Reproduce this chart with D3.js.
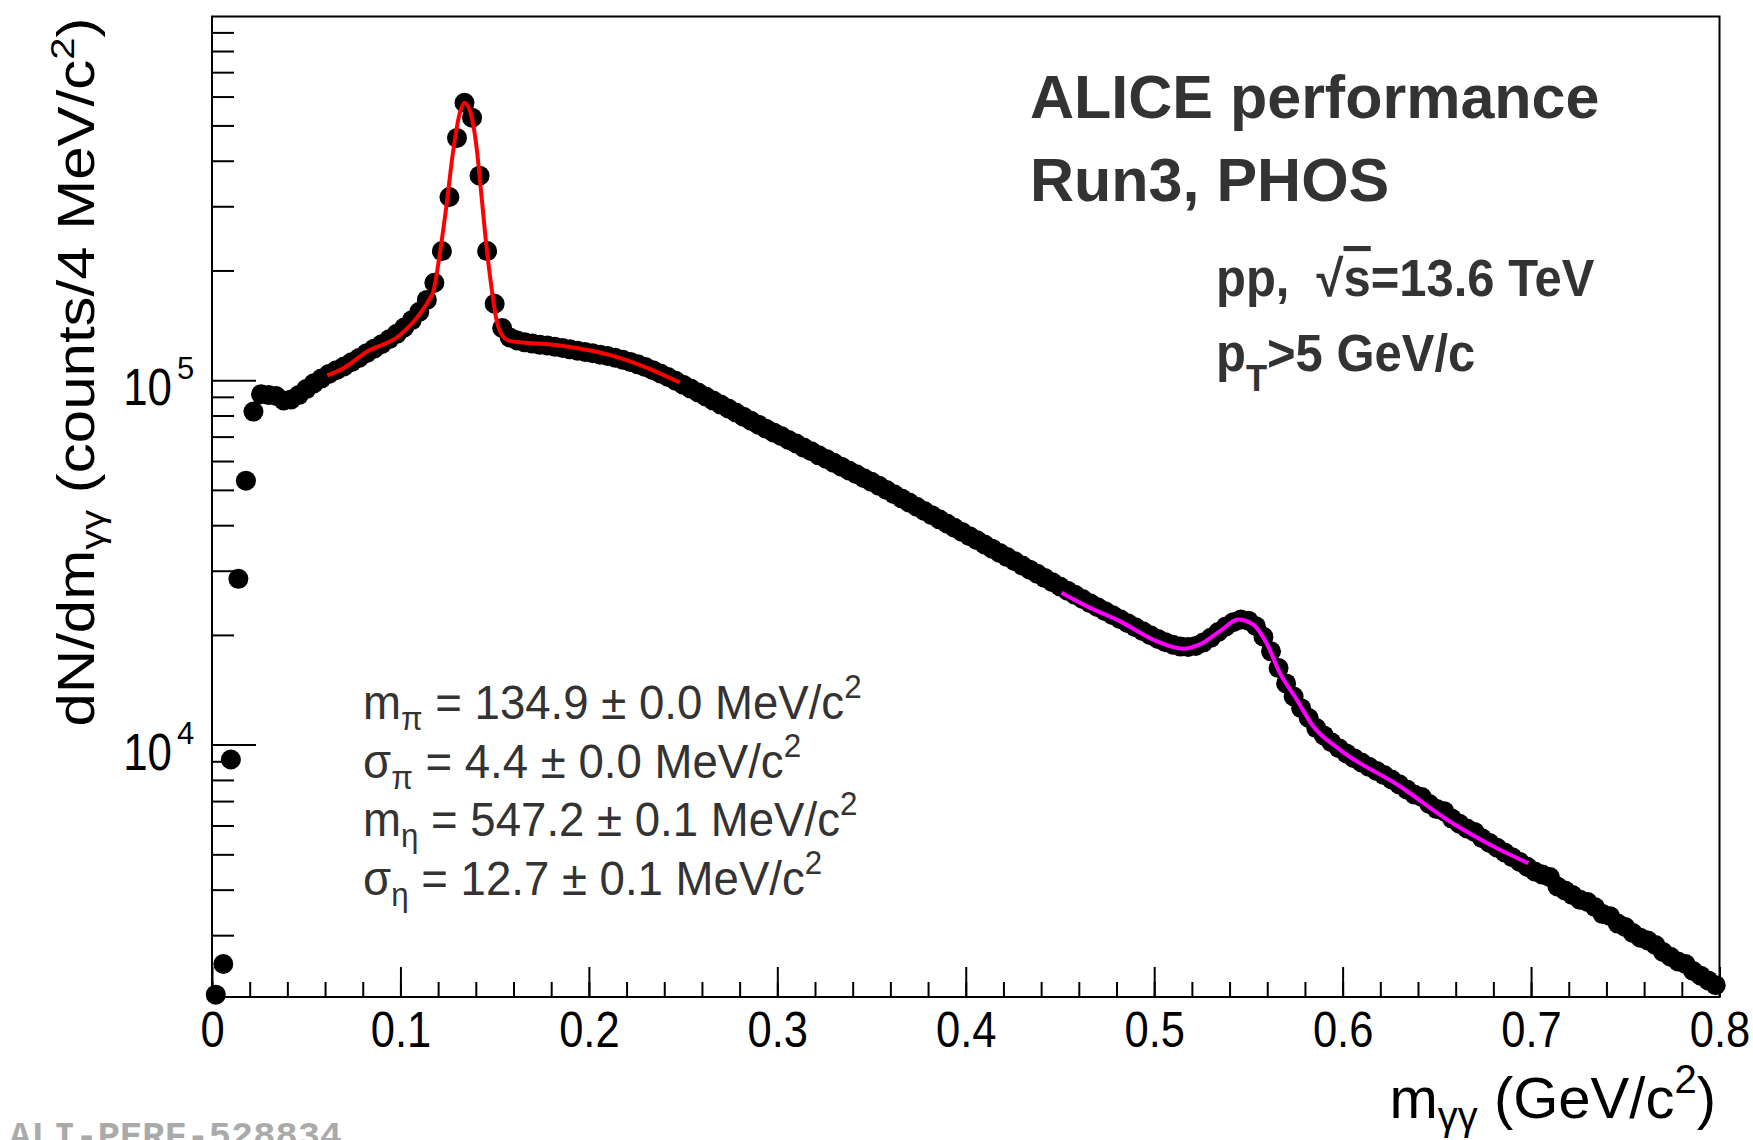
<!DOCTYPE html>
<html>
<head>
<meta charset="utf-8">
<script src="https://cdn.jsdelivr.net/npm/d3@7"></script>
<style>
  body { margin: 0; background: #fff; }
  svg { display: block; font-family: "Liberation Sans", Arial, sans-serif; }
</style>
</head>
<body>
<div id="chart"></div>
<script>
// invariant mass bin centres (GeV/c^2), 4 MeV bins
const massBins = [
  0.002,0.006,0.010,0.014,0.018,0.022,0.026,0.030,0.034,0.038,
  0.042,0.046,0.050,0.054,0.058,0.062,0.066,0.070,0.074,0.078,
  0.082,0.086,0.090,0.094,0.098,0.102,0.106,0.110,0.114,0.118,
  0.122,0.126,0.130,0.134,0.138,0.142,0.146,0.150,0.154,0.158,
  0.162,0.166,0.170,0.174,0.178,0.182,0.186,0.190,0.194,0.198,
  0.202,0.206,0.210,0.214,0.218,0.222,0.226,0.230,0.234,0.238,
  0.242,0.246,0.250,0.254,0.258,0.262,0.266,0.270,0.274,0.278,
  0.282,0.286,0.290,0.294,0.298,0.302,0.306,0.310,0.314,0.318,
  0.322,0.326,0.330,0.334,0.338,0.342,0.346,0.350,0.354,0.358,
  0.362,0.366,0.370,0.374,0.378,0.382,0.386,0.390,0.394,0.398,
  0.402,0.406,0.410,0.414,0.418,0.422,0.426,0.430,0.434,0.438,
  0.442,0.446,0.450,0.454,0.458,0.462,0.466,0.470,0.474,0.478,
  0.482,0.486,0.490,0.494,0.498,0.502,0.506,0.510,0.514,0.518,
  0.522,0.526,0.530,0.534,0.538,0.542,0.546,0.550,0.554,0.558,
  0.562,0.566,0.570,0.574,0.578,0.582,0.586,0.590,0.594,0.598,
  0.602,0.606,0.610,0.614,0.618,0.622,0.626,0.630,0.634,0.638,
  0.642,0.646,0.650,0.654,0.658,0.662,0.666,0.670,0.674,0.678,
  0.682,0.686,0.690,0.694,0.698,0.702,0.706,0.710,0.714,0.718,
  0.722,0.726,0.730,0.734,0.738,0.742,0.746,0.750,0.754,0.758,
  0.762,0.766,0.770,0.774,0.778,0.782,0.786,0.790,0.794,0.798
]

// counts per 4 MeV/c^2
const counts = [
  2060,2500,9100,28500,53000,82000,91500,91000,90500,88000,
  88500,91000,94500,98000,101000,104000,106500,109000,112000,115000,
  118500,122000,125500,129500,134000,139500,146000,154000,166000,185000,
  226000,318000,462000,577000,525000,364000,226000,162000,139000,131000,
  128500,127000,126000,125000,124500,123500,122500,121500,120500,119500,
  118500,117500,116500,115200,113800,112200,110500,108600,106500,104300,
  102000,99600,97200,94800,92500,90200,87900,85700,83600,81500,
  79400,77400,75500,73600,71900,70300,68500,67000,65300,63800,
  62200,60800,59300,57900,56500,55200,53800,52600,51300,49950,
  48640,47370,46130,44930,43750,42610,41500,40420,39360,38330,
  37330,36360,35400,34480,33570,32700,31840,31010,30200,29410,
  28640,27890,27160,26450,25760,25090,24430,23820,23230,22650,
  22080,21530,20990,20460,19950,19500,19100,18800,18580,18540,
  18660,19050,19630,20370,21090,21680,22030,21880,21130,19770,
  18030,16220,14720,13550,12590,11830,11100,10600,10150,9780,
  9460,9180,8930,8690,8470,8250,8020,7780,7534,7295,
  7180,6871,6653,6560,6266,6067,5888,5760,5534,5370,
  5212,5058,4909,4764,4624,4487,4400,4330,4080,3981,
  3864,3750,3700,3580,3428,3380,3228,3160,3041,2951,
  2900,2820,2698,2618,2541,2500,2393,2323,2254,2188
]

// pi0 fit curve
const pi0FitMass = [0.0612,0.070,0.082,0.0993,0.1102,0.1155,0.1173,0.121,0.1244,0.1279,0.1314,0.1341,0.1376,
  0.1403,0.143,0.1456,0.1482,0.1509,0.1536,0.158,0.165,0.1775,0.195,0.2128,0.2305,0.2482]
const pi0FitCounts = [103000,108000,119600,132400,151800,167000,174000,224000,301000,422000,538000,577000,532000,
  440000,321000,234000,181500,147000,133700,128200,126800,125600,122200,116600,108300,98600]

// eta fit curve
const etaFitMass = [0.4508,0.4641,0.4818,0.5012,0.5154,0.5242,0.5349,0.5446,0.5525,0.5596,0.5667,0.5756,
  0.5844,0.5985,0.6304,0.657,0.6835,0.6985]
const etaFitCounts = [26100,23990,21820,19220,18320,18830,20480,22050,21360,19010,15740,13300,
  11230,9690,7685,6150,5145,4730]

const xTicks = [0,0.1,0.2,0.3,0.4,0.5,0.6,0.7,0.8]
const xTickLabels = ["0","0.1","0.2","0.3","0.4","0.5","0.6","0.7","0.8"]
const yTicks = [1e4,1e5]
const yTickExponents = ["4","5"]
const yMinorTicks = [3e3,4e3,5e3,6e3,7e3,8e3,9e3,2e4,3e4,4e4,5e4,6e4,7e4,8e4,9e4,2e5,3e5,4e5,5e5,6e5,7e5,8e5,9e5]

const fitSymbols = ["m","σ","m","σ"]
const fitSubs = ["π","π","η","η"]
const fitValues = ["134.9","4.4","547.2","12.7"]
const fitErrors = ["0.0","0.0","0.1","0.1"]

let width = 1753
let height = 1140
let frameLeft = 212, frameRight = 1719.5, frameTop = 16.5, frameBottom = 997

let svg = d3.select('#chart').append('svg')
            .attr('width', width)
            .attr('height', height)

let x = d3.scaleLinear().domain([0, 0.8]).range([frameLeft, frameRight])
let y = d3.scaleLog().domain([2030, 995000]).range([frameBottom, frameTop])

// -- x axis: minor then major ticks pointing inward
svg.append('g')
    .attr('transform', `translate(0,${frameBottom})`)
    .call(d3.axisBottom(x).tickValues(d3.range(0, 0.8001, 0.02)).tickSize(-15).tickFormat(''))
let xMajor = svg.append('g')
    .attr('transform', `translate(0,${frameBottom})`)
    .call(d3.axisBottom(x).tickValues(xTicks).tickSize(-30).tickPadding(15)
          .tickFormat((d, i) => xTickLabels[i]))
xMajor.selectAll('text')
    .attr('font-size', 50)
    .attr('font-family', '"Liberation Sans", Arial, sans-serif')
    .attr('fill', '#000')
    .attr('transform', 'scale(0.87,1)')

// -- y axis
svg.append('g')
    .attr('transform', `translate(${frameLeft},0)`)
    .call(d3.axisLeft(y).tickValues(yMinorTicks).tickSize(-22).tickFormat(''))
svg.append('g')
    .attr('transform', `translate(${frameLeft},0)`)
    .call(d3.axisLeft(y).tickValues(yTicks).tickSize(-44).tickFormat(''))

svg.selectAll('.domain').remove()
svg.selectAll('.tick line').attr('stroke', '#000').attr('stroke-width', 2)

yTicks.forEach((v, i) => {
  svg.append('text')
     .attr('transform', `translate(172,${y(v) + 25}) scale(0.86,1)`)
     .attr('text-anchor', 'end')
     .attr('font-size', 51)
     .text('10')
  svg.append('text')
     .attr('x', 177)
     .attr('y', y(v) - 1)
     .attr('font-size', 31)
     .text(yTickExponents[i])
})

// frame
svg.append('rect')
   .attr('x', frameLeft).attr('y', frameTop)
   .attr('width', frameRight - frameLeft).attr('height', frameBottom - frameTop)
   .attr('fill', 'none').attr('stroke', '#000').attr('stroke-width', 2)

// -- data points
svg.selectAll('.dot')
   .data(massBins)
   .enter()
   .append('circle')
   .attr('class', 'dot')
   .attr('cx', (d) => x(d))
   .attr('cy', (d, i) => y(counts[i]))
   .attr('r', 10)
   .style('fill', '#000')

// -- fits
let fitLine = d3.line()
    .x((d) => x(d[0]))
    .y((d) => y(d[1]))
    .curve(d3.curveMonotoneX)

svg.append('path')
   .datum(pi0FitMass.map((m, i) => [m, pi0FitCounts[i]]))
   .attr('d', fitLine)
   .attr('fill', 'none').attr('stroke', '#ff0000').attr('stroke-width', 4)
svg.append('path')
   .datum(etaFitMass.map((m, i) => [m, etaFitCounts[i]]))
   .attr('d', fitLine)
   .attr('fill', 'none').attr('stroke', '#ff00ff').attr('stroke-width', 4)

// -- axis titles
let yTitle = svg.append('text')
    .attr('transform', `translate(94,${frameTop + 1}) rotate(-90) scale(1,0.85)`)
    .attr('text-anchor', 'end')
    .attr('font-size', 60)
yTitle.append('tspan').text('dN/dm')
yTitle.append('tspan').attr('font-size', 40).attr('dy', 12).text('γγ')
yTitle.append('tspan').attr('dy', -12).text('\u00a0(counts/4 MeV/c')
yTitle.append('tspan').attr('font-size', 40).attr('dy', -24).text('2')
yTitle.append('tspan').attr('dy', 24).text(')')

let xTitle = svg.append('text')
    .attr('x', 1716).attr('y', 1118)
    .attr('text-anchor', 'end')
    .attr('font-size', 58)
xTitle.append('tspan').text('m')
xTitle.append('tspan').attr('font-size', 40).attr('dy', 12).text('γγ')
xTitle.append('tspan').attr('dy', -12).text('\u00a0(GeV/c')
xTitle.append('tspan').attr('font-size', 40).attr('dy', -25).text('2')
xTitle.append('tspan').attr('dy', 25).text(')')

// -- labels
svg.append('text').attr('x', 1030).attr('y', 118).attr('font-size', 61)
   .attr('font-weight', 'bold').attr('fill', '#333').text('ALICE performance')
svg.append('text').attr('x', 1030).attr('y', 201).attr('font-size', 61)
   .attr('font-weight', 'bold').attr('fill', '#333').text('Run3, PHOS')

let ppText = svg.append('text')
    .attr('transform', 'translate(1216,296) scale(0.96,1)')
    .attr('font-size', 51).attr('font-weight', 'bold').attr('fill', '#333')
ppText.append('tspan').text('pp,\u00a0\u00a0√')
ppText.append('tspan').style('text-decoration', 'overline').text('s')
ppText.append('tspan').text('=13.6 TeV')

let ptText = svg.append('text')
    .attr('transform', 'translate(1216,371) scale(0.96,1)')
    .attr('font-size', 51).attr('font-weight', 'bold').attr('fill', '#333')
ptText.append('tspan').text('p')
ptText.append('tspan').attr('font-size', 36).attr('dy', 20).text('T')
ptText.append('tspan').attr('dy', -20).text('>5 GeV/c')

fitSymbols.forEach((s, i) => {
  let t = svg.append('text')
      .attr('transform', `translate(363,${719 + i * 58.5}) scale(0.95,1)`)
      .attr('font-size', 48).attr('fill', '#333')
  t.append('tspan').text(s)
  t.append('tspan').attr('font-size', 33).attr('dy', 11).text(fitSubs[i])
  t.append('tspan').attr('dy', -11).text(' = ' + fitValues[i] + ' ± ' + fitErrors[i] + ' MeV/c')
  t.append('tspan').attr('font-size', 33).attr('dy', -21).text('2')
})

// performance figure id (sits on the lower edge, as in the original)
svg.append('text')
   .attr('x', 9).attr('y', 1147)
   .attr('font-family', '"Liberation Mono", "Courier New", monospace')
   .attr('font-weight', 'bold').attr('font-size', 37).attr('fill', '#aaa')
   .text('ALI-PERF-528834')
</script>
</body>
</html>
